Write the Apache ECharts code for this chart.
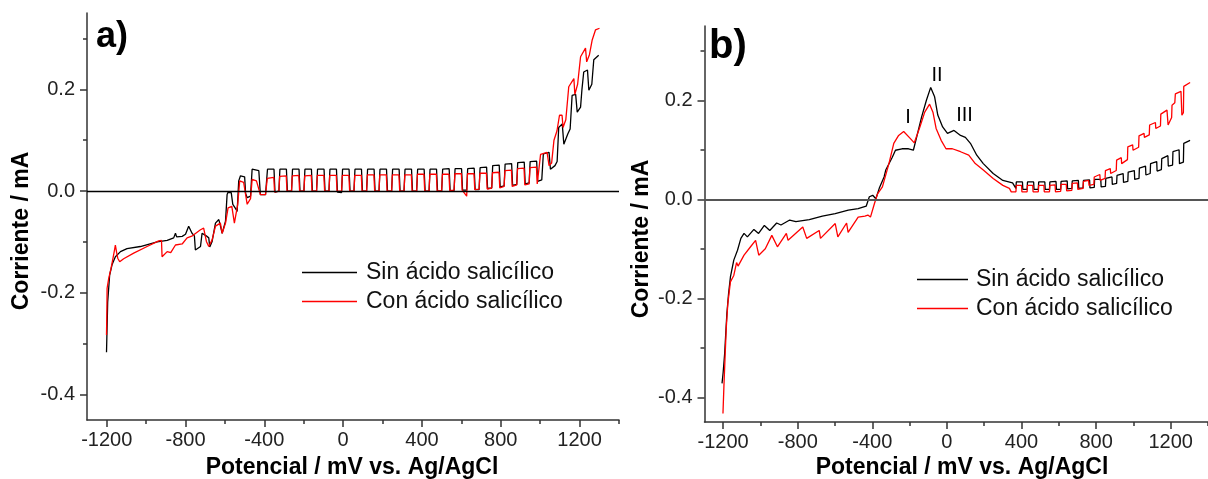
<!DOCTYPE html>
<html>
<head>
<meta charset="utf-8">
<script src="https://cdn.jsdelivr.net/npm/echarts@6/dist/echarts.min.js"></script>
<style>
html,body{margin:0;padding:0;background:#fff;}
#c{width:1208px;height:479px;}
</style>
</head>
<body>
<div id="c"></div>
<script>
// ---- tick values ----
const xMajor = [-1200, -800, -400, 0, 400, 800, 1200];
const xMinor = [-1000, -600, -200, 200, 600, 1000, 1400];
const yMajor = [-0.4, -0.2, 0, 0.2];
const yMinor = [-0.3, -0.1, 0.1, 0.3];

const seriesNames = ['Sin ácido salicílico', 'Con ácido salicílico'];
const peakLabels = ['I', 'II', 'III'];

// ---- panel a: [mV, mA] ----
const aBlack = [
[-1201,-0.317],[-1195,-0.218],[-1185,-0.165],[-1173,-0.145],[-1156,-0.129],[-1130,-0.119],[-1097,-0.113],[-1029,-0.109],
[-944,-0.100],[-893,-0.097],[-860,-0.092],[-851,-0.083],[-845,-0.090],[-817,-0.089],[-800,-0.085],[-784,-0.069],[-767,-0.083],
[-755,-0.088],[-750,-0.116],[-724,-0.109],[-716,-0.083],[-695,-0.088],[-682,-0.092],[-677,-0.110],[-665,-0.099],[-648,-0.063],
[-631,-0.056],[-625,-0.065],[-614,-0.083],[-597,-0.059],[-589,-0.007],[-585,-0.003],[-568,-0.003],[-560,-0.026],[-545,-0.035],
[-538,-0.040],[-530,0.020],[-521,0.030],[-500,0.028],[-495,-0.005],[-487,-0.013],[-470,-0.010],[-462,0.043],[-428,0.040],
[-420,-0.007],[-394,-0.007],
[-389,-0.005],[-384,0.043],[-351,0.043],[-346,-0.002],
[-326,0.000],[-321,0.043],[-288,0.043],[-283,0.000],
[-262,0.000],[-257,0.043],[-224,0.043],[-219,0.000],
[-199,0.000],[-194,0.043],[-161,0.043],[-156,0.000],
[-135,0.000],[-130,0.043],[-97,0.043],[-92,0.000],
[-72,0.000],[-67,0.043],[-34,0.043],[-29,-0.002],
[-8,-0.003],[-3,0.043],[30,0.043],[35,0.000],
[55,0.000],[60,0.043],[93,0.043],[98,0.000],
[119,0.000],[124,0.043],[157,0.043],[162,0.000],
[182,0.000],[187,0.043],[220,0.043],[225,0.000],
[246,0.000],[251,0.043],[284,0.043],[289,0.000],
[309,0.000],[314,0.043],[347,0.043],[352,0.000],
[373,0.000],[378,0.043],[411,0.043],[416,0.000],
[436,0.000],[441,0.043],[474,0.043],[479,0.000],
[500,0.000],[505,0.043],[538,0.044],[543,0.001],
[563,0.001],[568,0.044],[601,0.044],[606,0.002],
[627,0.002],[632,0.044],[665,0.045],[670,0.003],
[690,0.003],[695,0.046],[728,0.047],[733,0.005],
[754,0.006],[759,0.050],[792,0.051],[797,0.008],
[817,0.010],[822,0.053],[855,0.054],[860,0.011],
[881,0.013],[886,0.056],[919,0.057],[924,0.014],
[944,0.016],[949,0.058],[982,0.059],[987,0.019],
[1008,0.022],[1016,0.073],[1045,0.076],[1052,0.043],[1075,0.050],[1086,0.058],[1094,0.125],[1112,0.132],
[1120,0.092],[1140,0.112],[1152,0.122],[1162,0.188],[1180,0.190],[1188,0.155],[1205,0.165],[1212,0.200],
[1221,0.234],[1240,0.238],[1247,0.198],[1262,0.210],[1272,0.258],[1297,0.267]
];

const aRed = [
[-1201,-0.283],[-1199,-0.230],[-1198,-0.191],[-1190,-0.172],[-1178,-0.152],[-1168,-0.132],[-1160,-0.115],[-1156,-0.106],
[-1150,-0.120],[-1144,-0.132],[-1134,-0.139],[-1114,-0.133],[-1063,-0.122],[-995,-0.109],[-936,-0.098],[-922,-0.097],
[-919,-0.129],[-893,-0.119],[-875,-0.121],[-851,-0.106],[-817,-0.104],[-792,-0.092],[-765,-0.088],[-724,-0.076],[-708,-0.073],
[-694,-0.099],[-682,-0.109],[-665,-0.096],[-648,-0.069],[-623,-0.063],[-614,-0.083],[-597,-0.063],[-584,-0.033],[-565,-0.030],
[-552,-0.063],[-535,-0.026],[-525,0.020],[-505,0.017],[-487,-0.026],[-470,-0.015],[-462,0.023],[-440,0.020],[-420,-0.007],
[-394,-0.007],
[-389,-0.006],[-385,0.025],[-352,0.027],[-348,-0.002],
[-326,0.000],[-322,0.029],[-289,0.030],[-285,0.000],
[-262,0.000],[-258,0.030],[-225,0.031],[-221,0.000],
[-199,0.000],[-195,0.030],[-162,0.031],[-158,0.000],
[-135,0.000],[-131,0.031],[-98,0.031],[-94,0.000],
[-72,0.000],[-68,0.031],[-35,0.031],[-31,0.000],
[-8,0.000],[-4,0.031],[29,0.031],[33,0.000],
[55,0.000],[59,0.031],[92,0.031],[96,0.000],
[119,0.000],[123,0.032],[156,0.032],[160,0.000],
[182,0.000],[186,0.032],[219,0.032],[223,0.000],
[246,0.000],[250,0.032],[283,0.032],[287,0.000],
[309,0.000],[313,0.032],[346,0.032],[350,0.000],
[373,0.000],[377,0.033],[410,0.033],[414,0.000],
[436,0.000],[440,0.033],[473,0.033],[477,0.000],
[500,0.001],[504,0.033],[537,0.033],[541,0.001],
[563,0.002],[567,0.034],[600,0.034],[604,0.002],
[627,-0.010],[631,0.034],[664,0.034],[668,0.003],
[690,0.004],[694,0.035],[727,0.035],[731,0.004],
[754,0.006],[758,0.036],[791,0.037],[795,0.006],
[817,0.009],[821,0.040],[854,0.041],[858,0.009],
[881,0.012],[885,0.044],[918,0.045],[922,0.012],
[944,0.014],[948,0.046],[981,0.047],[985,0.014],
[992,0.016],[1002,0.072],[1035,0.076],[1045,0.050],[1058,0.055],[1070,0.100],[1085,0.118],[1098,0.149],[1111,0.149],
[1116,0.125],[1130,0.140],[1145,0.205],[1171,0.221],[1176,0.190],[1190,0.210],[1205,0.264],[1230,0.281],[1236,0.254],
[1250,0.268],[1264,0.297],[1281,0.317],[1301,0.320]
];

// ---- panel b: [mV, mA] ----
const bBlack = [
[-1206,-0.372],[-1200,-0.350],[-1192,-0.312],[-1187,-0.278],[-1180,-0.231],[-1171,-0.191],[-1161,-0.157],[-1143,-0.123],
[-1123,-0.103],[-1105,-0.079],[-1088,-0.069],[-1070,-0.076],[-1035,-0.061],[-1010,-0.069],[-979,-0.053],[-950,-0.063],
[-913,-0.048],[-890,-0.052],[-843,-0.042],[-810,-0.045],[-738,-0.041],[-668,-0.034],[-599,-0.029],[-529,-0.022],[-476,-0.019],
[-433,-0.014],[-416,0.005],[-398,0.008],[-381,0.001],[-363,0.022],[-337,0.045],[-328,0.059],[-293,0.085],[-276,0.099],
[-241,0.102],[-206,0.102],[-180,0.099],[-162,0.126],[-136,0.166],[-110,0.200],[-87,0.226],[-66,0.207],[-49,0.170],[-23,0.146],
[3,0.133],[38,0.139],[73,0.129],[99,0.125],[126,0.113],[160,0.089],[195,0.072],[248,0.052],[300,0.038],[352,0.033],
[370,0.022],[372,0.035],[405,0.035],[407,0.020],[430,0.020],[432,0.035],[465,0.035],[467,0.020],[490,0.020],[492,0.035],
[525,0.035],[527,0.020],[550,0.020],[552,0.035],[585,0.036],[587,0.020],[610,0.020],[612,0.036],[645,0.037],[647,0.021],
[670,0.022],[672,0.037],[705,0.038],[707,0.022],[730,0.023],[732,0.038],[765,0.039],[767,0.023],[790,0.024],[792,0.040],
[825,0.040],[827,0.025],[850,0.026],[852,0.042],[885,0.045],[887,0.030],[910,0.032],[912,0.048],[945,0.052],[947,0.034],
[970,0.036],[972,0.055],[1005,0.058],[1007,0.040],[1030,0.042],[1032,0.063],[1065,0.067],[1067,0.049],[1090,0.052],
[1092,0.072],[1125,0.076],[1127,0.057],[1150,0.060],[1152,0.082],[1185,0.088],[1187,0.067],[1210,0.069],[1212,0.096],
[1245,0.100],[1247,0.072],[1268,0.075],[1270,0.113],[1304,0.119]
];

const bRed = [
[-1201,-0.433],[-1196,-0.379],[-1189,-0.312],[-1183,-0.258],[-1175,-0.211],[-1161,-0.167],[-1143,-0.154],[-1128,-0.128],
[-1120,-0.135],[-1088,-0.113],[-1053,-0.096],[-1026,-0.083],[-1009,-0.113],[-974,-0.100],[-939,-0.073],[-909,-0.096],
[-861,-0.069],[-852,-0.083],[-773,-0.056],[-752,-0.079],[-685,-0.063],[-678,-0.079],[-599,-0.049],[-585,-0.076],[-538,-0.048],
[-530,-0.067],[-476,-0.036],[-440,-0.034],[-424,-0.032],[-410,-0.036],[-389,-0.009],[-372,0.011],[-346,0.025],[-311,0.072],
[-285,0.113],[-259,0.129],[-232,0.137],[-197,0.123],[-175,0.114],[-145,0.146],[-119,0.176],[-93,0.192],[-75,0.176],
[-58,0.143],[-31,0.119],[-5,0.102],[29,0.102],[73,0.096],[117,0.089],[152,0.072],[195,0.059],[248,0.042],[300,0.028],
[335,0.022],[345,0.015],[370,0.015],[372,0.028],[400,0.028],[402,0.015],[430,0.015],[432,0.028],[460,0.028],[462,0.015],
[490,0.015],[492,0.028],[520,0.028],[522,0.015],[550,0.015],[552,0.028],[580,0.029],[582,0.015],[610,0.016],[612,0.030],
[640,0.030],[642,0.017],[670,0.018],[672,0.032],[700,0.033],[702,0.020],[730,0.022],[732,0.036],[760,0.038],[762,0.028],
[788,0.030],[790,0.045],[820,0.050],[822,0.038],[848,0.042],[850,0.058],[876,0.062],[878,0.052],[908,0.058],[910,0.079],
[935,0.084],[937,0.072],[968,0.080],[970,0.106],[996,0.110],[998,0.099],[1028,0.105],[1030,0.128],[1057,0.133],[1059,0.125],
[1085,0.130],[1087,0.150],[1118,0.155],[1120,0.143],[1145,0.148],[1147,0.172],[1180,0.180],[1186,0.150],[1205,0.165],
[1207,0.190],[1222,0.195],[1225,0.213],[1255,0.218],[1260,0.170],[1268,0.175],[1270,0.228],[1304,0.236]
];

const FONT = '"Liberation Sans", Arial, sans-serif';
const AX = '#333';

function xMain(g) {
  return { type:'value', gridIndex:g, position:'bottom', min:-1300, max:1400,
    axisLine:{show:true,onZero:false,lineStyle:{color:AX,width:1.5}},
    axisTick:{show:true,customValues:xMajor,length:7,lineStyle:{color:AX,width:1.5}},
    axisLabel:{customValues:xMajor,fontSize:20,color:'#222',margin:10,fontFamily:FONT,
      formatter:function(v){return String(Math.round(v));}},
    splitLine:{show:false} };
}
function xSub(g) {
  return { type:'value', gridIndex:g, position:'bottom', min:-1300, max:1400,
    axisLine:{show:false,onZero:false},
    axisTick:{show:true,customValues:xMinor,length:4,lineStyle:{color:AX,width:1.5}},
    axisLabel:{show:false}, splitLine:{show:false} };
}
function yMain(g) {
  return { type:'value', gridIndex:g, position:'left', min:-0.45, max:0.35,
    axisLine:{show:true,onZero:false,lineStyle:{color:AX,width:1.5}},
    axisTick:{show:true,customValues:yMajor,length:7,lineStyle:{color:AX,width:1.5}},
    axisLabel:{customValues:yMajor,fontSize:20,color:'#222',margin:12,fontFamily:FONT,
      formatter:function(v){return Number(v).toFixed(1);}},
    splitLine:{show:false} };
}
function ySub(g) {
  return { type:'value', gridIndex:g, position:'left', min:-0.45, max:0.35,
    axisLine:{show:false,onZero:false},
    axisTick:{show:true,customValues:yMinor,length:4,lineStyle:{color:AX,width:1.5}},
    axisLabel:{show:false}, splitLine:{show:false} };
}

function zeroLine(color, width) {
  return { silent:true, symbol:['none','none'], label:{show:false},
    lineStyle:{color:color,width:width,type:'solid'}, data:[{yAxis:0}] };
}

function lineSeries(name, data, xi, yi, color, extra) {
  return Object.assign({ name:name, type:'line', data:data, xAxisIndex:xi, yAxisIndex:yi,
    showSymbol:false, symbol:'none', color:color, lineStyle:{color:color,width:1.3}, z:3 }, extra||{});
}

const chart = echarts.init(document.getElementById('c'), null, {renderer:'canvas'});
function legendAt(left, top, w, pad) {
  return { left:left, top:top, orient:'vertical', icon:'rect', itemWidth:w, itemHeight:1.6, itemGap:0,
    textStyle:{fontSize:23, fontFamily:FONT, color:'#111', lineHeight:29, padding:[0,0,0,pad]},
    selectedMode:false, data:seriesNames };
}

chart.setOption({
  animation:false,
  backgroundColor:'#ffffff',
  textStyle:{fontFamily:FONT},
  grid:[
    {left:87, top:13, width:532, height:407},
    {left:704.5, top:26, width:516, height:396}
  ],
  xAxis:[xMain(0), xSub(0), xMain(1), xSub(1)],
  yAxis:[yMain(0), ySub(0), yMain(1), ySub(1)],
  legend:[ legendAt(297, 253, 55, 4), legendAt(912, 260, 51, 3) ],
  series:[
    lineSeries(seriesNames[0], aBlack, 0, 0, '#000000', {markLine:zeroLine('#000',1.3)}),
    lineSeries(seriesNames[1], aRed, 0, 0, '#ff0000'),
    lineSeries(seriesNames[0], bBlack, 2, 2, '#000000', {markLine:zeroLine('#555',2)}),
    lineSeries(seriesNames[1], bRed, 2, 2, '#ff0000')
  ],
  graphic:[
    {type:'text', x:96, y:37, style:{text:'a)', font:'bold 36px '+FONT, fill:'#000', textVerticalAlign:'middle'}},
    {type:'text', x:709, y:47, style:{text:'b)', font:'bold 40px '+FONT, fill:'#000', textVerticalAlign:'middle'}},
    {type:'text', x:22, y:231, rotation:Math.PI/2, style:{text:'Corriente / mA', font:'bold 23px '+FONT, fill:'#000', textAlign:'center', textVerticalAlign:'middle'}},
    {type:'text', x:642, y:239, rotation:Math.PI/2, style:{text:'Corriente / mA', font:'bold 23px '+FONT, fill:'#000', textAlign:'center', textVerticalAlign:'middle'}},
    {type:'text', x:352, y:468, style:{text:'Potencial / mV vs. Ag/AgCl', font:'bold 23px '+FONT, fill:'#000', textAlign:'center', textVerticalAlign:'middle'}},
    {type:'text', x:962, y:468, style:{text:'Potencial / mV vs. Ag/AgCl', font:'bold 23px '+FONT, fill:'#000', textAlign:'center', textVerticalAlign:'middle'}},
    {type:'text', x:908, y:117, style:{text:peakLabels[0], font:'20px '+FONT, fill:'#000', textAlign:'center', textVerticalAlign:'middle'}},
    {type:'text', x:937, y:75, style:{text:peakLabels[1], font:'20px '+FONT, fill:'#000', textAlign:'center', textVerticalAlign:'middle'}},
    {type:'text', x:964.5, y:115, style:{text:peakLabels[2], font:'20px '+FONT, fill:'#000', textAlign:'center', textVerticalAlign:'middle'}}
  ]
});
</script>
</body>
</html>
